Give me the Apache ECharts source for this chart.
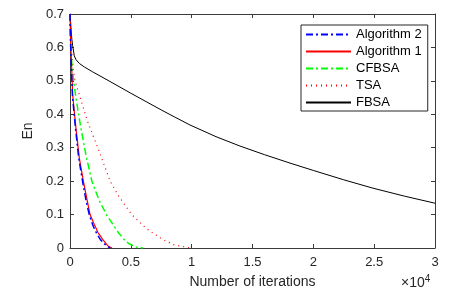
<!DOCTYPE html>
<html>
<head>
<meta charset="utf-8">
<script src="https://cdn.jsdelivr.net/npm/echarts@6/dist/echarts.min.js"></script>
<style>html,body{margin:0;padding:0;background:#fff}#c{width:461px;height:296px}</style>
</head>
<body>
<div id="c"></div>
<script>
// Data: [iterations, En]
var algorithm2 = [[0,0.7],[40,0.62],[80,0.57],[200,0.455],[450,0.358],[720,0.268],[1030,0.2],[1330,0.14],[1580,0.1],[1900,0.066],[2200,0.043],[2500,0.025],[3000,0.006],[3300,0]];
var algorithm1 = [[0,0.7],[50,0.62],[100,0.575],[220,0.458],[490,0.358],[770,0.268],[1100,0.2],[1400,0.145],[1650,0.1],[2000,0.07],[2300,0.046],[2700,0.025],[3100,0.007],[3450,0]];
var cfbsa = [[0,0.7],[50,0.62],[150,0.55],[300,0.5],[490,0.448],[900,0.358],[1310,0.278],[1800,0.2],[2400,0.142],[3000,0.1],[3500,0.072],[4000,0.045],[4450,0.025],[4870,0.012],[5500,0.002],[6000,0]];
var tsa = [[0,0.7],[100,0.6],[250,0.54],[410,0.5],[770,0.458],[1400,0.383],[2410,0.288],[3300,0.2],[4000,0.155],[5070,0.1],[6250,0.059],[7500,0.028],[8500,0.01],[9900,0]];
var fbsa = [[0,0.7],[80,0.66],[150,0.625],[220,0.605],[350,0.575],[500,0.563],[770,0.552],[1200,0.541],[1860,0.527],[2800,0.508],[3780,0.488],[5000,0.463],[6250,0.438],[7500,0.413],[8700,0.39],[9860,0.368],[12000,0.333],[13970,0.305],[16000,0.279],[18080,0.254],[20000,0.232],[22500,0.204],[24900,0.179],[27500,0.155],[30000,0.134]];
var seriesNames = ['Algorithm 2','Algorithm 1','CFBSA','TSA','FBSA'];
var xTicks = [0,5000,10000,15000,20000,25000,30000];

var font = 'Liberation Sans, Arial, Helvetica, sans-serif';
var axisColor = '#3a3a3a';
var chart = echarts.init(document.getElementById('c'), null, {renderer:'canvas'});

function axisCommon(show){
  return {
    axisLine:{show:true, onZero:false, lineStyle:{color:axisColor, width:1}},
    axisTick:{show:true, inside:true, length:4, lineStyle:{color:axisColor}},
    splitLine:{show:false},
    axisLabel:{show:show, color:'#262626', fontSize:13, fontFamily:font}
  };
}

var xBottom = Object.assign(axisCommon(true), {
  type:'value', min:0, max:30000, interval:5000, position:'bottom',
  name:'Number of iterations', nameLocation:'middle', nameGap:27,
  nameTextStyle:{color:'#262626', fontSize:14, fontFamily:font}
});
xBottom.axisLabel.margin = 8;
xBottom.axisLabel.formatter = function(v){ return String(v/10000); };
var xTop = Object.assign(axisCommon(false), {type:'value', min:0, max:30000, interval:5000, position:'top'});

var yLeft = Object.assign(axisCommon(true), {
  type:'value', min:0, max:0.7, interval:0.1, position:'left',
  name:'En', nameLocation:'middle', nameGap:30, nameRotate:90,
  nameTextStyle:{color:'#262626', fontSize:14, fontFamily:font}
});
yLeft.axisLabel.margin = 6;
yLeft.axisLabel.formatter = function(v){ return v === 0 ? '0' : v.toFixed(1); };
var yRight = Object.assign(axisCommon(false), {type:'value', min:0, max:0.7, interval:0.1, position:'right'});

function line(name, data, color, type, width){
  return {name:name, type:'line', data:data, xAxisIndex:0, yAxisIndex:0,
    showSymbol:false, symbol:'none', smooth:false, animation:false,
    lineStyle:{color:color, type:type, width:width}, itemStyle:{color:color}};
}

chart.setOption({
  animation:false,
  backgroundColor:'#fff',
  grid:{left:70, right:26, top:14, bottom:48, containLabel:false},
  xAxis:[xBottom, xTop],
  yAxis:[yLeft, yRight],
  legend:{
    orient:'vertical', left:301, top:25,
    itemWidth:45, itemHeight:14, itemGap:4, padding:[3,6,2,4],
    borderColor:'#262626', borderWidth:1, backgroundColor:'#fff',
    itemStyle:{opacity:0},
    textStyle:{fontSize:13, color:'#000', fontFamily:font},
    data:seriesNames
  },
  series:[
    line(seriesNames[4], fbsa, '#000000', 'solid', 1),
    line(seriesNames[3], tsa, '#ff0000', [1,4], 1.2),
    line(seriesNames[2], cfbsa, '#00ff00', [7,3,2,3], 1.5),
    line(seriesNames[1], algorithm1, '#ff0000', 'solid', 1.2),
    line(seriesNames[0], algorithm2, '#0000ff', [7,3,2,3], 1.5)
  ],
  graphic:[{
    type:'text', left:401, top:274,
    style:{rich:{a:{fontSize:14, fontFamily:font, fill:'#262626'}, b:{fontSize:10, fontFamily:font, fill:'#262626', verticalAlign:'top', padding:[0,0,8,0]}},
      text:'{a|×10}{b|4}'}
  }]
});
</script>
</body>
</html>
